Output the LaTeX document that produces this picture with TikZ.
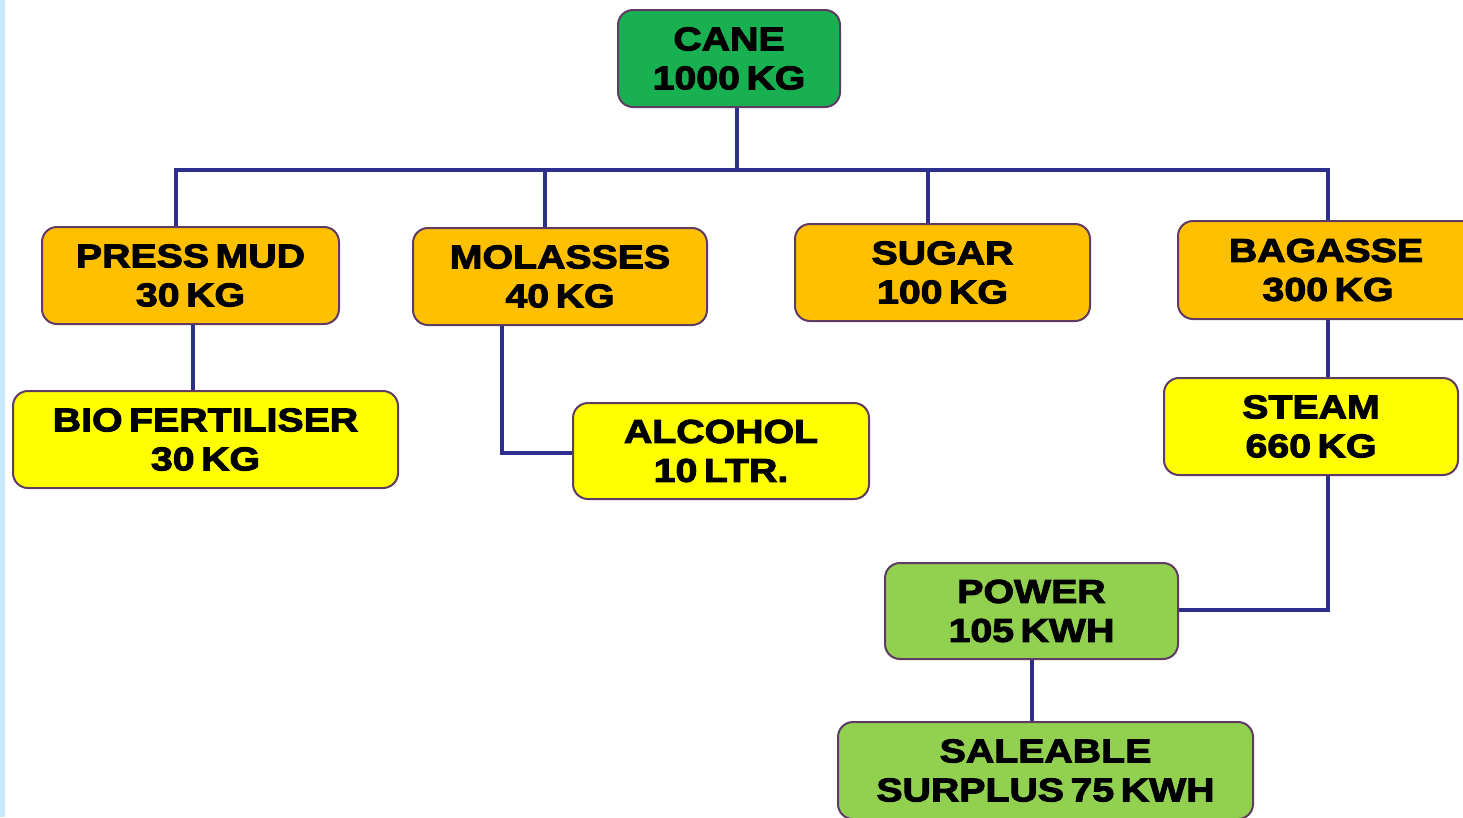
\documentclass[tikz,border=0pt]{standalone}
\usepackage{fontspec}
\setmainfont{Liberation Sans}
\newfontfamily\heavy[BoldFeatures={FakeBold=3, FakeStretch=1.19}, WordSpace=0.6]{Liberation Sans}
\usetikzlibrary{backgrounds}
\definecolor{cgreen}{RGB}{24,176,80}
\definecolor{lgreen}{RGB}{146,208,80}
\definecolor{orng}{RGB}{255,192,0}
\definecolor{yell}{RGB}{255,255,0}
\definecolor{bord}{RGB}{96,60,100}
\definecolor{wire}{RGB}{44,48,140}
\definecolor{strip}{RGB}{200,232,250}
\tikzset{
  box/.style={draw=bord, line width=2pt, rounded corners=15pt, align=center,
    font=\fontsize{33}{39}\heavy\bfseries, inner sep=0pt},
  link/.style={draw=wire, line width=3.5pt}
}
\begin{document}
\begin{tikzpicture}[x=1pt,y=-1pt]
\useasboundingbox (0,0) rectangle (1463,817);
\node[box, fill=cgreen, minimum width=222pt, minimum height=97pt] (cane) at (729,58.5) {CANE\\1000 KG};
\node[box, fill=orng, minimum width=297pt, minimum height=97pt] (press) at (190.5,275.5) {PRESS MUD\\30 KG};
\node[box, fill=orng, minimum width=294pt, minimum height=97pt] (mol) at (560,276.5) {MOLASSES\\40 KG};
\node[box, fill=orng, minimum width=295pt, minimum height=97pt] (sugar) at (942.5,272.5) {SUGAR\\100 KG};
\node[box, fill=orng, minimum width=300pt, minimum height=98pt] (bag) at (1328,270) {\hspace*{-4pt}BAGASSE\\300 KG};
\node[box, fill=yell, minimum width=385pt, minimum height=97pt] (bio) at (205.5,439.5) {BIO FERTILISER\\30 KG};
\node[box, fill=yell, minimum width=296pt, minimum height=96pt] (alc) at (721,451) {ALCOHOL\\10 LTR.};
\node[box, fill=yell, minimum width=294pt, minimum height=97pt] (steam) at (1311,426.5) {STEAM\\660 KG};
\node[box, fill=lgreen, minimum width=293pt, minimum height=96pt] (power) at (1031.5,611) {POWER\\105 KWH};
\node[box, fill=lgreen, minimum width=415pt, minimum height=97pt] (sale) at (1045.5,770.5) {SALEABLE\\SURPLUS 75 KWH};
\coordinate (bus) at (737,170);
\coordinate (busL) at (176,170);
\coordinate (busR) at (1328,170);
\coordinate (busM) at (545,170);
\coordinate (busS) at (928,170);
\coordinate (pd) at (193,0);
\coordinate (md) at (502,0);
\coordinate (ad) at (0,453);
\coordinate (sd) at (1328,0);
\coordinate (pw) at (0,610);
\coordinate (wd) at (1032,0);
\begin{scope}[on background layer]
\fill[white] (0,0) rectangle (1463,817);
\fill[strip] (0,0) rectangle (5,817);
\draw[link] (cane.south -| bus) -- (bus);
\draw[link] (busL |- press.north) -- (busL) -- (busR) -- (busR |- bag.north);
\draw[link] (busM) -- (busM |- mol.north);
\draw[link] (busS) -- (busS |- sugar.north);
\draw[link] (pd |- press.south) -- (pd |- bio.north);
\draw[link] (md |- mol.south) -- (md |- ad) -- (alc.west |- ad);
\draw[link] (sd |- bag.south) -- (sd |- steam.north);
\draw[link] (sd |- steam.south) -- (sd |- pw) -- (power.east |- pw);
\draw[link] (wd |- power.south) -- (wd |- sale.north);
\end{scope}
\end{tikzpicture}
\end{document}
